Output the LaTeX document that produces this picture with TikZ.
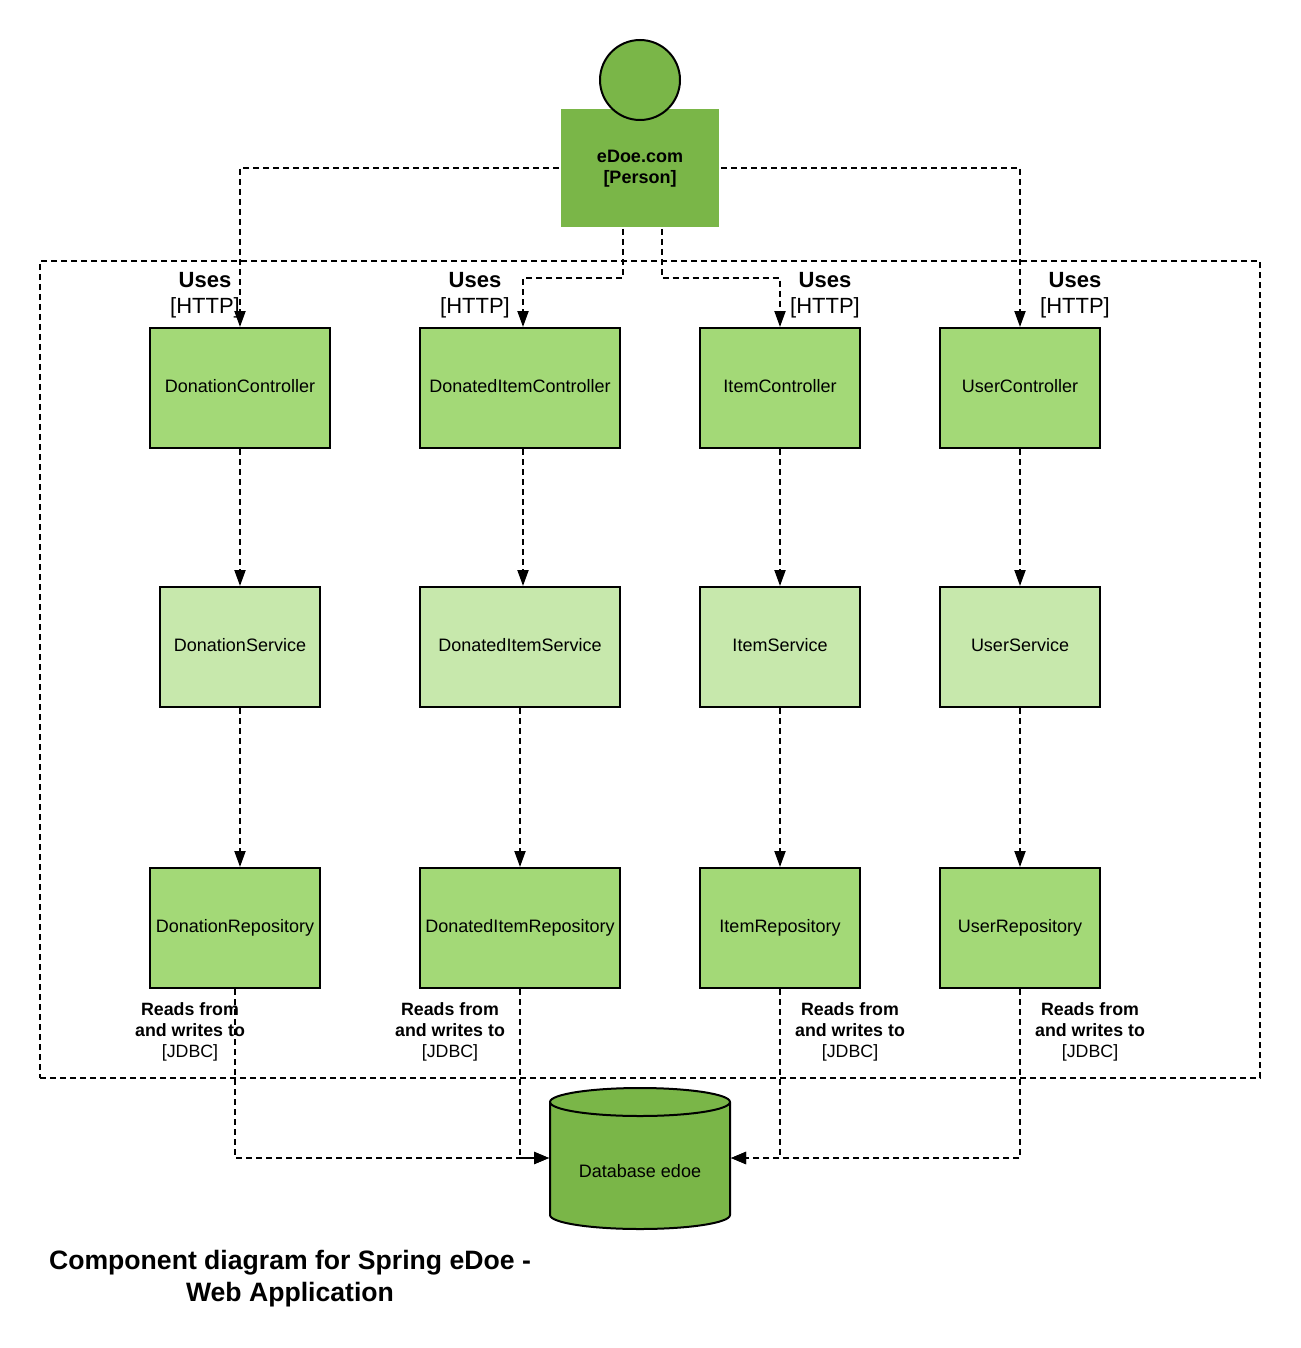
\documentclass[tikz,border=0pt]{standalone}
\usepackage{fontspec}
\setmainfont{Liberation Sans}
\usetikzlibrary{arrows.meta}
\definecolor{gA}{HTML}{7AB648}
\definecolor{gB}{HTML}{A3D977}
\definecolor{gC}{HTML}{C7E8AC}
\tikzset{
  compbox/.style={draw=black,line width=2pt,minimum height=120pt,inner sep=0pt,font=\fontsize{18}{21}\selectfont},
  ctrl/.style={compbox,fill=gB},
  serv/.style={compbox,fill=gC},
  link/.style={line width=2pt,dash pattern=on 6pt off 4pt,-{Triangle[length=16pt,width=11pt]}},
  dblink/.style={line width=2pt,dash pattern=on 6pt off 4pt,-{Triangle[length=15pt,width=12pt]}},
  usesl/.style={align=center,inner sep=0pt,font=\fontsize{22}{26}\selectfont},
  readl/.style={align=center,inner sep=0pt,font=\fontsize{17.8}{21}\selectfont},
}
\begin{document}
\begin{tikzpicture}[x=1pt,y=-1pt]
\useasboundingbox (0,0) rectangle (1300,1348);
\fill[white] (0,0) rectangle (1300,1348);
% boundary
\node[draw=black,line width=2pt,dash pattern=on 6pt off 4pt,minimum width=1220pt,minimum height=817pt,inner sep=0pt] (bound) at (650,669.5) {};
% person
\node[fill=gA,minimum width=158pt,minimum height=118pt,inner sep=0pt,outer sep=2pt,align=center,font=\fontsize{18}{21}\selectfont\bfseries] (person) at (640,168) {\raisebox{-1pt}[\height][\depth]{\begin{tabular}{@{}c@{}}eDoe.com\\[-0.5pt]{[Person]}\end{tabular}}};
\node[circle,draw=black,line width=2pt,fill=gA,minimum size=80pt,inner sep=0pt] (head) at (640,80) {};
% controllers
\node[ctrl,minimum width=180pt] (dc) at (240,388) {\raisebox{4pt}{DonationController}};
\node[ctrl,minimum width=200pt] (dic) at (520,388) {\raisebox{4pt}{DonatedItemController}};
\node[ctrl,minimum width=160pt] (ic) at (780,388) {\raisebox{4pt}{ItemController}};
\node[ctrl,minimum width=160pt] (uc) at (1020,388) {\raisebox{4pt}{UserController}};
% services
\node[serv,minimum width=160pt] (ds) at (240,647) {\raisebox{4pt}{DonationService}};
\node[serv,minimum width=200pt] (dis) at (520,647) {\raisebox{4pt}{DonatedItemService}};
\node[serv,minimum width=160pt] (is) at (780,647) {\raisebox{4pt}{ItemService}};
\node[serv,minimum width=160pt] (us) at (1020,647) {\raisebox{4pt}{UserService}};
% repositories
\node[ctrl,minimum width=170pt] (dr) at (235,928) {\raisebox{3pt}{DonationRepository}};
\node[ctrl,minimum width=200pt] (dir) at (520,928) {\raisebox{3pt}{DonatedItemRepository}};
\node[ctrl,minimum width=160pt] (ir) at (780,928) {\raisebox{3pt}{ItemRepository}};
\node[ctrl,minimum width=160pt] (ur) at (1020,928) {\raisebox{3pt}{UserRepository}};
% database
\draw[line width=2pt,fill=gA] (550,1102) arc[start angle=180,end angle=0,x radius=90pt,y radius=14pt] -- (730,1215) arc[start angle=0,end angle=-180,x radius=90pt,y radius=14pt] -- cycle;
\draw[line width=2pt] (550,1102) arc[start angle=180,end angle=360,x radius=90pt,y radius=14pt];
\node[minimum width=180pt,minimum height=140pt,inner sep=0pt,outer sep=1pt] (db) at (640,1158) {};
\node[inner sep=0pt,font=\fontsize{18}{21}\selectfont] (dbtext) at (640,1171) {Database edoe};
% connectors
\coordinate (bendL) at (523,278);
\coordinate (bendR) at (780,278);
\draw[link] (person.west) -| (dc.north);
\draw[link] (person.east) -| (uc.north);
\draw[link] ([xshift=-17pt]person.south) |- (bendL) -- ([xshift=3pt]dic.north);
\draw[link] ([xshift=21.5pt]person.south) |- (bendR) -- (ic.north);
\draw[link] (dc.south) -- (ds.north);
\draw[link] ([xshift=3pt]dic.south) -- ([xshift=3pt]dis.north);
\draw[link] (ic.south) -- (is.north);
\draw[link] (uc.south) -- (us.north);
\draw[link] (ds.south) -- ([xshift=5pt]dr.north);
\draw[link] (dis.south) -- (dir.north);
\draw[link] (is.south) -- (ir.north);
\draw[link] (us.south) -- (ur.north);
\coordinate (dbl) at (db.west);
\coordinate (dbr) at (db.east);
\draw[dblink] (dr.south) |- (dbl);
\draw[dblink] (dir.south) |- (dbl);
\draw[dblink] (ir.south) |- (dbr);
\draw[dblink] (ur.south) |- (dbr);
% uses labels
\node[usesl] (u1) at (205,295) {\textbf{Uses}\\{[HTTP]}};
\node[usesl] (u2) at (475,295) {\textbf{Uses}\\{[HTTP]}};
\node[usesl] (u3) at (825,295) {\textbf{Uses}\\{[HTTP]}};
\node[usesl] (u4) at (1075,295) {\textbf{Uses}\\{[HTTP]}};
% reads labels
\node[readl] (r1) at (190,1032) {\textbf{Reads from}\\\textbf{and writes to}\\{[JDBC]}};
\node[readl] (r2) at (450,1032) {\textbf{Reads from}\\\textbf{and writes to}\\{[JDBC]}};
\node[readl] (r3) at (850,1032) {\textbf{Reads from}\\\textbf{and writes to}\\{[JDBC]}};
\node[readl] (r4) at (1090,1032) {\textbf{Reads from}\\\textbf{and writes to}\\{[JDBC]}};
% title
\node[align=center,inner sep=0pt,font=\fontsize{26.6}{32}\selectfont\bfseries] (title) at (290,1279) {Component diagram for Spring eDoe -\\Web Application};
\end{tikzpicture}
\end{document}
